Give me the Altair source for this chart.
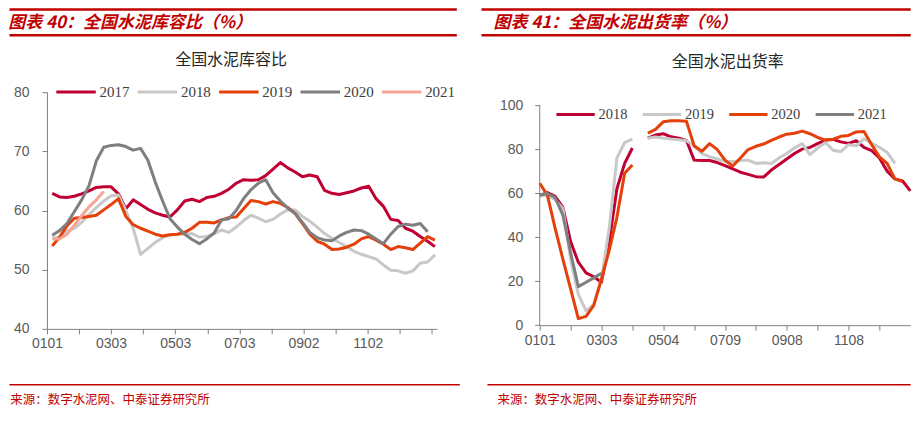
import altair as alt
import pandas as pd
import json

# ---------------- data: left panel (全国水泥库容比, weekly) ----------------
left_series = ["2017", "2018", "2019", "2020", "2021"]
left_colors = ["#C00032", "#C8C8C8", "#E5400A", "#7F7F7F", "#F5A594"]
left_day = [5 + 7 * k for k in range(53)]  # day of year of each weekly reading

cap_2017 = [62.9, 62.3, 62.2, 62.4, 62.8, 63.3, 63.9, 64.0, 64.0, 62.8,
            60.3, 61.8, 61.0, 60.2, 59.6, 59.2, 58.9, 60.1, 61.6, 61.9,
            61.5, 62.2, 62.4, 62.9, 63.6, 64.6, 65.2, 65.1, 65.2, 65.9,
            67.0, 68.1, 67.2, 66.5, 65.7, 66.0, 65.7, 63.4, 62.9, 62.7,
            63.0, 63.3, 63.8, 64.1, 62.0, 60.7, 58.5, 58.3, 57.0, 56.5,
            55.6, 54.8, 53.9]
cap_2018 = [55.3, 55.5, 56.5, 57.0, 58.0, 59.3, 60.5, 61.6, 62.5, 62.6,
            60.0, 57.0, 52.6, 53.6, 54.6, 55.4, 55.9, 56.0, 56.0, 56.1,
            55.5, 55.6, 56.1, 56.7, 56.3, 57.2, 58.3, 59.2, 58.7, 58.1,
            58.5, 59.4, 60.1, 60.1, 59.0, 58.2, 57.2, 56.1, 55.3, 54.6,
            53.9, 53.1, 52.6, 52.2, 51.8, 50.8, 49.9, 49.8, 49.4, 49.8,
            51.1, 51.3, 52.5]
cap_2019 = [54.0, 55.5, 57.4, 58.7, 58.8, 59.0, 59.2, 60.1, 61.0, 62.0,
            59.0, 57.6, 57.0, 56.5, 56.0, 55.7, 55.9, 56.0, 56.3, 57.0,
            58.0, 58.0, 57.9, 58.4, 58.8, 58.9, 60.3, 61.7, 61.5, 61.1,
            61.5, 61.2, 60.5, 59.5, 57.8, 56.0, 54.8, 54.3, 53.4, 53.5,
            53.8, 54.3, 55.2, 55.6, 55.0, 54.3, 53.4, 53.9, 53.7, 53.4,
            54.5, 55.6, 55.0]
cap_2020 = [55.8, 56.6, 57.8, 59.8, 61.8, 64.2, 68.4, 70.7, 71.0, 71.1,
            70.8, 70.2, 70.5, 68.5, 64.8, 61.6, 58.6, 57.2, 56.0, 55.1,
            54.4, 55.2, 56.2, 58.4, 58.6, 60.0, 62.0, 63.5, 64.6, 65.2,
            63.0, 61.6, 60.4, 59.5, 58.0, 56.3, 55.4, 55.0, 54.9, 55.7,
            56.3, 56.7, 56.6, 56.0, 55.2, 54.4, 56.0, 57.3, 57.7, 57.5,
            57.8, 56.4]
cap_2021 = [55.2, 55.2, 56.0, 57.5, 59.1, 60.6, 61.8, 63.2]

left_tick_days = [0, 30.5, 61, 91.5, 122, 152.5, 183, 213.5, 244, 274.5, 305, 335.5, 366]
left_tick_labels = ["0101", "", "0303", "", "0503", "", "0703", "", "0902", "", "1102", "", ""]
left_y_ticks = [40, 50, 60, 70, 80]

# ---------------- data: right panel (全国水泥出货率) ----------------
right_series = ["2018", "2019", "2020", "2021"]
right_colors = ["#C00032", "#C8C8C8", "#E5400A", "#7F7F7F"]
right_idx = list(range(49))

ship_2018 = [59.0, 60.2, 58.5, 53.5, 38.0, 28.6, 23.8, 22.0, 19.5, 38.0,
             62.0, 73.5, 80.5, None, 85.0, 86.4, 87.0, 85.6, 85.0, 84.0,
             75.0, 74.8, 74.8, 73.9, 72.5, 71.0, 69.5, 68.5, 67.5, 67.3,
             70.5, 73.0, 75.5, 78.0, 80.0, 80.8, 82.5, 84.1, 84.4, 83.3,
             82.6, 83.8, 80.8, 79.3, 76.0, 70.0, 66.5, 65.5, 61.0]
ship_2019 = [58.7, 59.1, 57.0, 53.0, 30.0, 14.0, 6.5, 9.5, 21.0, 44.0,
             76.0, 83.0, 84.5, None, 85.0, 85.5, 85.0, 84.6, 84.3, 83.8,
             81.5, 78.0, 76.6, 75.5, 74.5, 74.3, 74.8, 75.0, 73.5, 73.8,
             73.5, 76.0, 78.0, 80.5, 82.5, 77.5, 80.5, 83.0, 79.5, 78.8,
             82.0, 81.5, 84.7, 82.7, 80.8, 78.5, 73.5, None, None]
ship_2020 = [64.5, 59.0, 44.0, 30.0, 16.5, 3.0, 4.0, 9.0, 21.0, 34.0,
             49.0, 69.0, 72.8, None, 87.2, 89.0, 92.4, 92.9, 92.9, 92.7,
             81.5, 79.0, 82.5, 79.8, 75.0, 72.3, 76.0, 79.8, 81.3, 82.3,
             84.0, 85.5, 86.8, 87.2, 88.2, 87.0, 85.3, 84.1, 84.5, 85.8,
             86.2, 87.8, 88.0, 82.0, 76.5, 73.5, 66.5, 65.2, None]
ship_2021 = [59.1, 59.8, 58.0, 50.0, 33.0, 17.5, 19.5, 21.5, 23.6]

right_tick_idx = [0, 4, 8, 12, 16, 20, 24, 28, 32, 36, 40, 44]
right_tick_labels = ["0101", "", "0303", "", "0504", "", "0709", "", "0908", "", "1108", ""]
right_y_ticks = [0, 20, 40, 60, 80, 100]

left_header = "图表 40：全国水泥库容比（%）"
right_header = "图表 41：全国水泥出货率（%）"
left_title = "全国水泥库容比"
right_title = "全国水泥出货率"
source_text = "来源：数字水泥网、中泰证券研究所"

RED = "#C00000"
AXIS = "#808080"
LABEL = "#595959"
SANS = "Liberation Sans"
SERIF = "Liberation Serif"
CJK = "Noto Sans CJK SC"


def long_df(xs, names, series):
    rows = []
    for name, vals in zip(names, series):
        seg = 0
        for x, v in zip(xs, vals):
            if v is None:
                seg += 1
                continue
            rows.append({"x": x, "v": v, "s": name, "seg": f"{name}-{seg}"})
    return pd.DataFrame(rows)


def text_layer(txt, x, y, size, color, weight="normal", style="normal", align="left", font=CJK):
    return alt.Chart(pd.DataFrame({"t": [txt]})).mark_text(
        align=align, baseline="middle", fontSize=size, font=font,
        fontWeight=weight, fontStyle=style, color=color
    ).encode(x=alt.value(x), y=alt.value(y), text="t:N")


def hrule(x1, x2, y, color, width):
    return alt.Chart(pd.DataFrame({"a": [0]})).mark_rule(
        color=color, strokeWidth=width
    ).encode(x=alt.value(x1), x2=alt.value(x2), y=alt.value(y))


def label_expr(labels, step):
    return f"{json.dumps(labels)}[round(datum.value / {step})]"


# ---------------- left panel ----------------
LW, LH = 390.3, 237
ldf = long_df(left_day, left_series, [cap_2017, cap_2018, cap_2019, cap_2020, cap_2021])

left_lines = alt.Chart(ldf).mark_line(strokeWidth=3, strokeJoin="round").encode(
    x=alt.X("x:Q", scale=alt.Scale(domain=[0, 370.8], nice=False, zero=False),
            axis=alt.Axis(values=left_tick_days, labelExpr=label_expr(left_tick_labels, 30.5),
                          title=None, grid=False, tickSize=5, tickColor=AXIS, domainColor=AXIS,
                          labelColor=LABEL, labelFont=SANS, labelFontSize=14, labelPadding=3,
                          labelFlush=False, labelOverlap=False)),
    y=alt.Y("v:Q", scale=alt.Scale(domain=[40, 80], nice=False, zero=False),
            axis=alt.Axis(values=left_y_ticks, title=None, grid=False, tickSize=5,
                          tickColor=AXIS, domainColor=AXIS, labelColor=LABEL, labelFont=SANS,
                          labelFontSize=14, labelPadding=13)),
    color=alt.Color("s:N", scale=alt.Scale(domain=left_series, range=left_colors),
                    legend=alt.Legend(orient="none", legendX=7.6, legendY=-22, direction="horizontal",
                                      columns=5, title=None, symbolType="stroke", symbolSize=1560,
                                      symbolStrokeWidth=3, labelFont=SERIF, labelFontSize=15,
                                      labelColor="#404040", labelOffset=2, columnPadding=1.5,
                                      padding=0)),
    detail="seg:N",
)

left = alt.layer(
    left_lines,
    hrule(-37.5, 410.3, -82.75, RED, 2.5),
    hrule(-37.5, 410.3, -57, RED, 2.5),
    text_layer(left_header, -38.7, -69.5, 17, RED, weight="bold", style="italic"),
    text_layer(left_title, 184.3, -32, 16, "#262626", align="center"),
    hrule(-37.5, 413.3, 293, RED, 1.5),
    text_layer(source_text, -36.7, 308, 12.5, RED),
).properties(width=LW, height=LH)

# ---------------- right panel ----------------
RW, RH = 371, 233.3
rdf = long_df(right_idx, right_series, [ship_2018, ship_2019, ship_2020, ship_2021])
r_yaxis = alt.Axis(values=right_y_ticks, title=None, grid=False, tickSize=5, tickColor=AXIS,
                   domain=False, labelColor=LABEL, labelFont=SANS, labelFontSize=14, labelPadding=12)
r_yscale = alt.Scale(domain=[0, 105.9], nice=False, zero=False)

right_lines = alt.Chart(rdf).mark_line(strokeWidth=3, strokeJoin="round").encode(
    x=alt.X("x:Q", scale=alt.Scale(domain=[0, 48], nice=False, zero=False),
            axis=alt.Axis(values=right_tick_idx, labelExpr=label_expr(right_tick_labels, 4),
                          title=None, grid=False, tickSize=5, tickColor=AXIS, domainColor=AXIS,
                          labelColor=LABEL, labelFont=SANS, labelFontSize=14, labelPadding=3,
                          labelFlush=False, labelOverlap=False)),
    y=alt.Y("v:Q", scale=r_yscale, axis=r_yaxis),
    color=alt.Color("s:N", scale=alt.Scale(domain=right_series, range=right_colors),
                    legend=alt.Legend(orient="none", legendX=14.9, legendY=1.2, direction="horizontal",
                                      columns=4, title=None, symbolType="stroke", symbolSize=1470,
                                      symbolStrokeWidth=3, labelFont=SERIF, labelFontSize=14.5,
                                      labelColor="#404040", labelOffset=2, columnPadding=8.5,
                                      padding=0)),
    detail="seg:N",
)

r_axis_line = alt.Chart(pd.DataFrame({"y0": [0], "y1": [100]})).mark_rule(
    color=AXIS, strokeWidth=1
).encode(x=alt.value(0), y=alt.Y("y0:Q", scale=r_yscale, axis=r_yaxis), y2="y1:Q")

right = alt.layer(
    right_lines,
    r_axis_line,
    hrule(-58.3, 371.4, -82.75, RED, 2.5),
    hrule(-58.3, 371.4, -57, RED, 2.5),
    text_layer(right_header, -46.3, -69.5, 17, RED, weight="bold", style="italic"),
    text_layer(right_title, 188.2, -30.3, 16, "#262626", align="center"),
    hrule(-52.3, 371.4, 293, RED, 1.5),
    text_layer(source_text, -42.3, 308, 12.5, RED),
).properties(width=RW, height=RH)

chart = alt.hconcat(left, right, spacing=102.3, bounds="flush", padding=0).resolve_scale(
    color="independent"
).configure_view(stroke=None)

chart.save("out.html", embed_options={"renderer": "svg", "actions": False})
